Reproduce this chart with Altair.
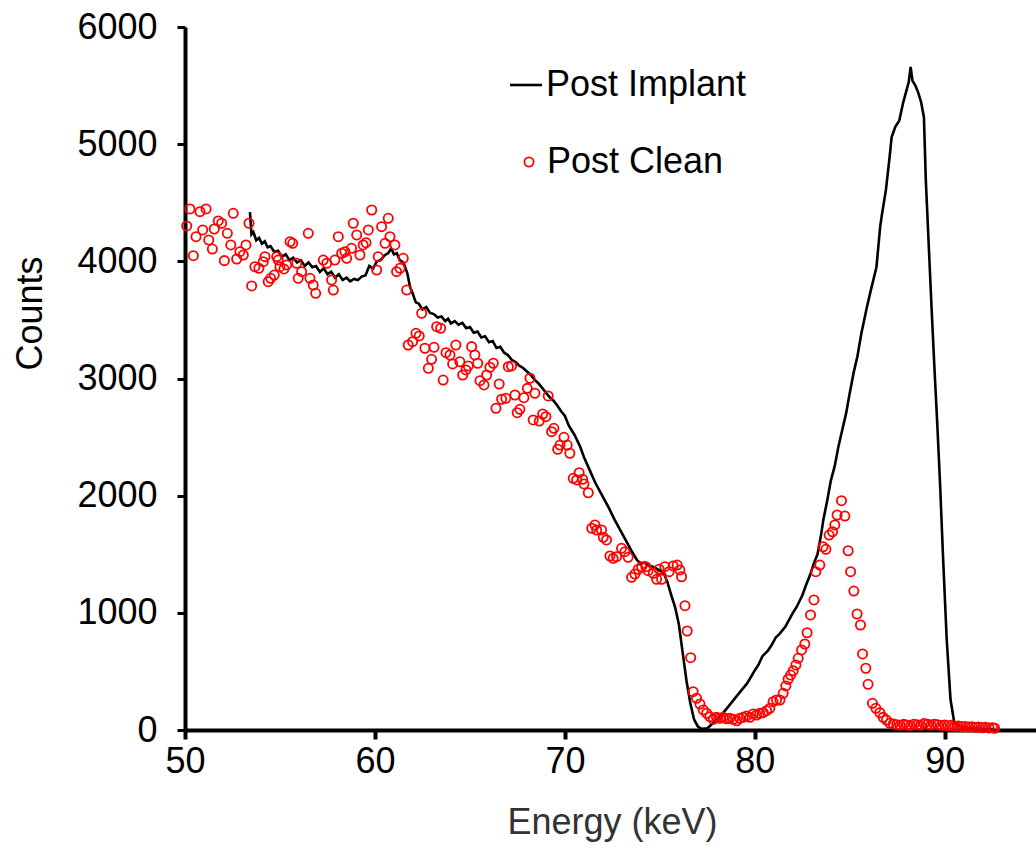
import altair as alt
import pandas as pd

# Post Implant (line)
implant_e = [53.42, 53.5, 53.6, 53.75, 53.9, 54.05, 54.2, 54.35, 54.5, 54.7, 54.9, 55.1, 55.3, 55.5, 55.7,
             55.9, 56.1, 56.3, 56.5, 56.7, 56.9, 57.1, 57.3, 57.5, 57.7, 57.9, 58.1, 58.3, 58.5, 58.7,
             58.9, 59.1, 59.3, 59.5, 59.7, 59.9, 60.1, 60.3, 60.5, 60.7, 60.85, 61.0, 61.15, 61.3, 61.5,
             61.7, 61.85, 62.0, 62.15, 62.3, 62.5, 62.7, 62.9, 63.1, 63.3, 63.5, 63.7, 63.85, 64.0, 64.2,
             64.4, 64.6, 64.8, 65.0, 65.2, 65.4, 65.6, 65.8, 66.0, 66.2, 66.4, 66.6, 66.8, 67.0, 67.2,
             67.4, 67.6, 67.8, 68.0, 68.2, 68.4, 68.6, 68.8, 69.0, 69.2, 69.4, 69.6, 69.8, 70.0, 70.2,
             70.5, 70.8, 71.0, 71.3, 71.6, 72.0, 72.3, 72.6, 72.9, 73.2, 73.5, 73.8, 74.0, 74.2, 74.4,
             74.6, 74.8, 75.0, 75.2, 75.4, 75.6, 75.8, 76.0, 76.2, 76.4, 76.6, 76.8, 77.0, 77.2, 77.5,
             77.8, 78.0, 78.3, 78.6, 79.0, 79.3, 79.6, 80.0, 80.2, 80.4, 80.7, 80.9, 81.1, 81.3, 81.6,
             81.8, 82.0, 82.2, 82.5, 82.7, 82.9, 83.1, 83.3, 83.5, 83.6, 83.8, 84.0, 84.2, 84.4, 84.6,
             84.8, 85.0, 85.2, 85.4, 85.6, 85.9, 86.1, 86.4, 86.6, 86.7, 86.9, 87.1, 87.2, 87.4, 87.6,
             87.8, 88.0, 88.1, 88.2, 88.3, 88.45, 88.6, 88.75, 88.9, 89.0, 89.15, 89.3, 89.45, 89.6, 89.75,
             89.9, 90.1, 90.3, 90.5, 90.8, 91.2, 91.6, 92.0, 92.6]
implant_c = [4420, 4230, 4250, 4180, 4200, 4150, 4170, 4120, 4130, 4080, 4090, 4040, 4060, 4010, 4030,
             3990, 4010, 3960, 3990, 3950, 3960, 3910, 3940, 3890, 3910, 3860, 3890, 3840, 3860, 3830,
             3850, 3840, 3870, 3880, 3960, 3940, 4000, 4010, 4050, 4070, 4110, 4060, 4070, 4010, 3990,
             3900, 3780, 3720, 3650, 3640, 3590, 3610, 3560, 3550, 3520, 3530, 3490, 3510, 3470, 3490,
             3460, 3475, 3430, 3440, 3390, 3400, 3350, 3360, 3310, 3320, 3260, 3270, 3220, 3200, 3160,
             3140, 3110, 3090, 3060, 3030, 2990, 2960, 2920, 2880, 2840, 2810, 2770, 2720, 2680, 2600,
             2520, 2420, 2330, 2220, 2110, 1990, 1900, 1800, 1710, 1620, 1530, 1450, 1420, 1430, 1400,
             1395, 1380, 1360, 1340, 1260, 1150, 1050, 900, 660, 420, 230, 90, 30, 10, 15,
             60, 90, 140, 200, 280, 340, 400, 510, 560, 630, 680, 730, 790, 820, 880,
             940, 1000, 1050, 1150, 1240, 1320, 1420, 1500, 1680, 1790, 1950, 2130, 2250, 2420, 2560,
             2700, 2880, 3050, 3190, 3380, 3610, 3750, 3950, 4300, 4410, 4610, 4900, 5060, 5150, 5200,
             5350, 5470, 5530, 5660, 5540, 5500, 5440, 5360, 5230, 4690, 4150, 3610, 3100, 2620, 2100,
             1500, 770, 260, 60, 30, 20, 15, 10, 8]

# Post Clean (open circles)
clean_e = [50.09, 50.26, 50.44, 50.58, 50.79, 50.93, 51.11, 51.25, 51.44, 51.54, 51.75, 51.93, 52.07, 52.23, 52.41,
           52.54, 52.72, 52.89, 53.07, 53.21, 53.37, 53.51, 53.68, 53.89, 54.12, 54.21, 54.38, 54.51, 54.70, 54.83,
           54.91, 55.00, 55.21, 55.35, 55.53, 55.67, 55.88, 55.96, 56.14, 56.49, 56.58, 56.75, 56.88, 57.28, 57.46,
           57.72, 57.81, 57.89, 58.07, 58.25, 58.42, 58.51, 58.77, 58.86, 59.04, 59.21, 59.38, 59.53, 59.65, 59.83,
           60.09, 60.17, 60.35, 60.53, 60.70, 60.79, 61.05, 61.14, 61.32, 61.49, 61.67, 61.75, 61.98, 62.16, 62.33,
           62.46, 62.63, 62.81, 62.98, 63.11, 63.25, 63.46, 63.59, 63.74, 63.95, 64.09, 64.26, 64.47, 64.62, 64.79,
           64.91, 65.09, 65.26, 65.41, 65.53, 65.74, 65.88, 66.05, 66.23, 66.37, 66.54, 66.67, 66.89, 67.02, 67.19,
           67.37, 67.49, 67.63, 67.84, 68.02, 68.16, 68.33, 68.42, 68.65, 68.83, 69.00, 69.12, 69.30, 69.42, 69.62,
           69.74, 69.95, 70.12, 70.26, 70.44, 70.62, 70.75, 70.93, 71.00, 71.23, 71.41, 71.58, 71.67, 71.93, 72.02,
           72.19, 72.37, 72.54, 72.72, 72.98, 73.16, 73.33, 73.51, 73.68, 73.86, 74.04, 74.26, 74.38, 74.65, 74.83,
           74.96, 75.09, 75.26, 75.49, 75.70, 75.91, 76.05, 76.14, 76.32, 76.44, 76.62, 76.75, 76.93, 77.11, 77.28,
           77.46, 77.63, 77.81, 77.98, 78.16, 78.33, 78.51, 78.68, 78.86, 79.04, 79.21, 79.39, 79.56, 79.74, 79.91,
           80.09, 80.26, 80.44, 80.62, 80.79, 80.96, 81.14, 81.32, 81.49, 81.63, 81.75, 81.88, 82.02, 82.16, 82.28,
           82.46, 82.63, 82.75, 82.93, 83.11, 83.21, 83.42, 83.59, 83.74, 83.91, 84.09, 84.21, 84.33, 84.56, 84.74,
           84.91, 85.04, 85.21, 85.38, 85.56, 85.67, 85.84, 85.96, 86.19, 86.37, 86.58, 86.75, 86.93, 87.11, 87.29,
           87.47, 87.65, 87.83, 88.01, 88.19, 88.37, 88.55, 88.73, 88.91, 89.09, 89.27, 89.45, 89.63, 89.81, 89.99,
           90.17, 90.35, 90.53, 90.71, 90.89, 91.07, 91.25, 91.43, 91.61, 91.79, 91.97, 92.15, 92.33, 92.51, 92.62]
clean_c = [4302, 4447, 4048, 4210, 4424, 4268, 4447, 4182, 4105, 4276, 4345, 4325, 4006, 4239, 4140,
           4410, 4020, 4082, 4054, 4140, 4325, 3790, 3954, 3941, 3997, 4040, 3826, 3855, 3883, 4040,
           4011, 3954, 3935, 3969, 4168, 4154, 3983, 3855, 3912, 4239, 3855, 3798, 3727, 4011, 3983,
           3841, 3755, 4011, 4210, 4069, 4082, 4026, 4111, 4325, 4225, 4054, 4140, 4159, 4268, 4438,
           3926, 4040, 4296, 4154, 4367, 4210, 4140, 3912, 3941, 4026, 3755, 3286, 3314, 3386, 3363,
           3557, 3258, 3087, 3164, 3266, 3442, 3429, 2987, 3220, 3201, 3124, 3286, 3143, 3030, 3073,
           3107, 3272, 3201, 3130, 2981, 2945, 3030, 3096, 3130, 2746, 2953, 2823, 2831, 3101, 3107,
           2859, 2708, 2737, 2836, 2916, 3002, 2646, 2874, 2637, 2697, 2674, 2851, 2546, 2575, 2396,
           2432, 2498, 2432, 2362, 2148, 2134, 2196, 2140, 2100, 2025, 1722, 1750, 1707, 1707, 1645,
           1622, 1485, 1465, 1479, 1551, 1522, 1474, 1303, 1331, 1372, 1394, 1394, 1360, 1337, 1286,
           1372, 1286, 1394, 1351, 1400, 1408, 1366, 1308, 1061, 845, 617, 327, 271, 222, 171,
           143, 114, 91, 108, 100, 108, 96, 100, 91, 79, 100, 108, 119, 108, 137,
           128, 143, 148, 165, 185, 242, 256, 256, 313, 376, 433, 469, 506, 555, 612,
           683, 734, 830, 982, 1110, 1351, 1408, 1564, 1542, 1664, 1692, 1750, 1835, 1957, 1826,
           1530, 1351, 1186, 990, 896, 649, 527, 390, 228, 185, 148, 108, 85, 57, 52,
           45, 40, 48, 42, 38, 50, 44, 40, 55, 48, 42, 50, 45, 38, 42,
           36, 40, 32, 35, 28, 30, 25, 28, 22, 25, 20, 24, 18, 20, 15]

x_ticks = [50, 60, 70, 80, 90]
y_ticks = [0, 1000, 2000, 3000, 4000, 5000, 6000]

FONT = "Liberation Sans"

implant_df = pd.DataFrame({"energy": implant_e, "counts": implant_c, "series": "Post Implant"})
clean_df = pd.DataFrame({"energy": clean_e, "counts": clean_c, "series": "Post Clean"})

x_enc = alt.X(
    "energy:Q",
    scale=alt.Scale(domain=[50, 94.8], nice=False, zero=False),
    axis=alt.Axis(
        values=x_ticks, title="Energy (keV)", grid=False, format="d", labelFlush=False,
        labelFont=FONT, labelFontSize=36, labelColor="black", labelPadding=5,
        titleFont=FONT, titleFontSize=36, titleFontWeight="normal", titleColor="#333",
        titleX=427, titleY=103, titleBaseline="alphabetic", titleAlign="center",
        domainColor="black", domainWidth=4, tickColor="black", tickWidth=4, tickSize=9,
    ),
)
y_enc = alt.Y(
    "counts:Q",
    scale=alt.Scale(domain=[0, 6000], nice=False),
    axis=alt.Axis(
        values=y_ticks, title="Counts", grid=False, format="d", labelFlush=False,
        labelFont=FONT, labelFontSize=36, labelColor="black", labelPadding=20,
        titleFont=FONT, titleFontSize=36, titleFontWeight="normal", titleColor="black",
        titleX=-155, titleY=286, titleBaseline="middle", titleAlign="center", titleAngle=270,
        domainColor="black", domainWidth=4, tickColor="black", tickWidth=3, tickSize=8,
    ),
)

line = alt.Chart(implant_df).mark_line(strokeWidth=2.6).encode(
    x=x_enc,
    y=y_enc,
    color=alt.Color(
        "series:N", scale=alt.Scale(domain=["Post Implant"], range=["black"]), title=None,
        legend=alt.Legend(orient="none", legendX=323, legendY=40, symbolType="stroke",
                          symbolSize=1024, symbolStrokeWidth=2.6, labelFont=FONT, labelLimit=400,
                          labelFontSize=36, labelColor="black", labelOffset=2, padding=0),
    ),
)

points = alt.Chart(clean_df).mark_point(filled=False, size=85, strokeWidth=1.8, opacity=1).encode(
    x=x_enc,
    y=y_enc,
    color=alt.Color(
        "series:N", scale=alt.Scale(domain=["Post Clean"], range=["#ff0000"]), title=None,
        legend=alt.Legend(orient="none", legendX=326, legendY=117, symbolType="circle",
                          symbolSize=85, symbolStrokeWidth=1.8, symbolOpacity=1, labelFont=FONT,
                          labelLimit=400, labelFontSize=36, labelColor="black", labelOffset=0,
                          padding=0),
    ),
)

chart = (
    alt.layer(line, points)
    .resolve_scale(color="independent")
    .properties(
        width=851, height=703,
        background="white",
        autosize=alt.AutoSizeParams(type="none"),
        padding={"left": 185, "top": 27, "right": 0, "bottom": 120},
    )
    .configure_view(stroke="transparent", strokeWidth=0)
)

chart.save("out.html", embed_options={"renderer": "svg", "actions": False})
